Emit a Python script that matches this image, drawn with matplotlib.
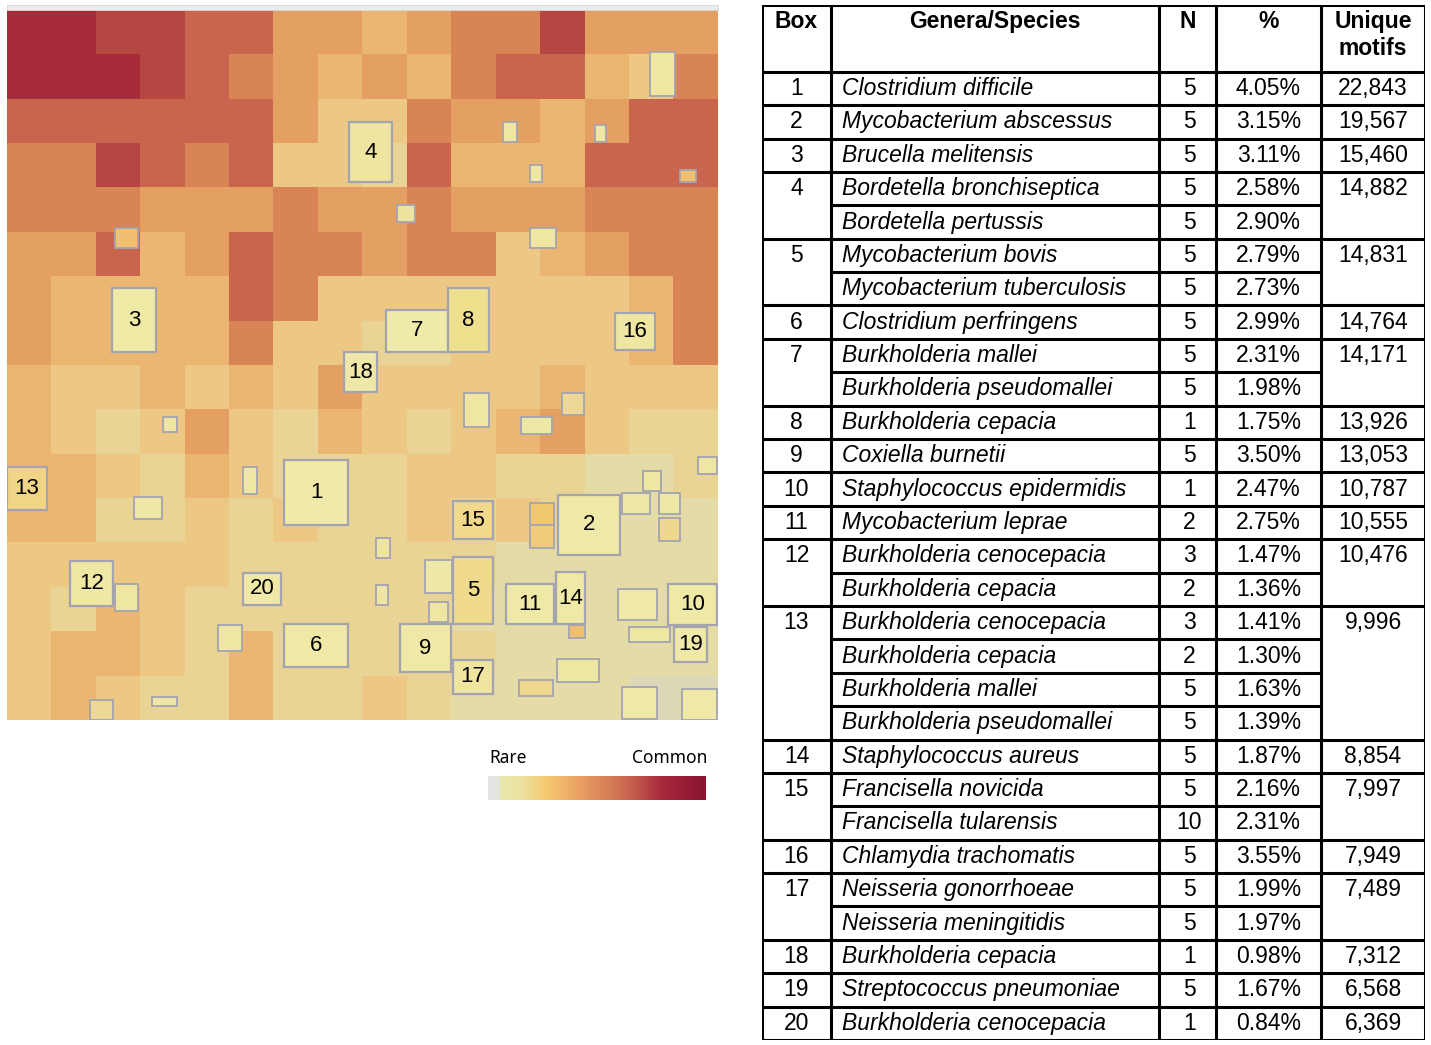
import matplotlib
matplotlib.use("Agg")
import numpy as np
import matplotlib.pyplot as plt
from matplotlib.colors import ListedColormap, LinearSegmentedColormap, Normalize
from matplotlib.patches import Rectangle
from matplotlib import font_manager
import matplotlib.cm as cm

# coarse motif-abundance levels of the map (0 rare .. 9 common), 16 x 16 blocks
level_rows = [
    "9988775545668555",
    "9998765454677436",
    "7777775336554577",
    "6687673327444777",
    "6665556556555666",
    "5574576656634566",
    "5444476333333346",
    "5444463322333346",
    "4334343533334333",
    "4323532432345322",
    "4432432223322112",
    "4422323223232111",
    "3333322222211111",
    "3243222222111111",
    "3443242222211111",
    "3432242232111100",
]
levels = np.array([[int(c) for c in r] for r in level_rows])
level_colors = ["#ddd9b8", "#e5dba6", "#e9d495", "#ecc884", "#ebb672",
                "#e49f62", "#d98455", "#c9654c", "#b64642", "#a52c38"]

# labelled boxes (image pixel coords of the map: x0, y0, x1, y1)
box_ids = list(range(1, 21))
box_x0 = [284, 558, 112, 349, 453, 284, 386, 448, 400, 668, 506, 70, 7, 556, 453, 615, 453, 344, 674, 243]
box_y0 = [460, 495, 288, 122, 557, 624, 310, 288, 624, 584, 584, 561, 467, 572, 501, 313, 660, 352, 627, 573]
box_x1 = [348, 620, 156, 392, 493, 348, 448, 489, 451, 717, 554, 113, 47, 585, 493, 655, 493, 377, 707, 281]
box_y1 = [525, 555, 352, 182, 624, 667, 352, 352, 672, 625, 624, 606, 510, 624, 539, 350, 694, 392, 662, 605]
box_fill = ["#efeaa8", "#efe9a8", "#efe9a6", "#efe4a0", "#f0da8e", "#efe8a6", "#eeeaaa", "#efe08e",
            "#efe8a6", "#efe9a8", "#efe9a8", "#efe7a4", "#f1d486", "#efe8a6", "#f1d88a", "#efe6a4",
            "#efe4a0", "#efe8a8", "#efe8a8", "#efe8a6"]

# some of the larger unlabelled boxes
ext_x0 = [650, 530, 530, 622, 659, 659, 618, 557, 622, 682, 425, 464, 562, 521, 134, 115, 218, 90, 115, 530,
          503, 595, 397, 530, 680, 243, 163, 376, 376, 698, 643, 629, 519, 429, 569, 152]
ext_y0 = [52, 503, 525, 493, 493, 518, 589, 659, 687, 689, 560, 393, 393, 417, 497, 584, 625, 700, 228, 228,
          122, 125, 205, 165, 170, 467, 417, 585, 538, 457, 471, 627, 680, 602, 625, 697]
ext_x1 = [675, 554, 554, 650, 680, 680, 657, 599, 657, 717, 452, 489, 584, 552, 162, 138, 242, 113, 138, 556,
          517, 606, 415, 542, 696, 257, 177, 388, 390, 717, 661, 670, 553, 448, 585, 177]
ext_y1 = [96, 525, 548, 514, 514, 541, 620, 682, 719, 720, 593, 427, 415, 434, 519, 611, 651, 720, 248, 248,
          142, 142, 222, 182, 182, 494, 432, 605, 558, 474, 491, 642, 696, 622, 638, 706]
ext_fill = ["#efe6a0", "#f0c870", "#f0cc78", "#eee8a6", "#eee8a6", "#eed890", "#efe9a8", "#eee6a2",
            "#efe8a6", "#efe8a6", "#eee8a6", "#eee6a2", "#eed898", "#eee8a6", "#eee8a6", "#eee6a2",
            "#eee6a2", "#eed898", "#f0c070", "#eee6a2", "#eee6a2", "#eee6a2", "#eee2a0", "#eee6a2",
            "#f0c070", "#eee6a2", "#eee6a2", "#eee6a2", "#eee6a2", "#eee6a2", "#eee6a2", "#eee6a2",
            "#eed890", "#eee6a2", "#f0c070", "#eee6a2"]

# table
row_box = [1, 2, 3, 4, 4, 5, 5, 6, 7, 7, 8, 9, 10, 11, 12, 12, 13, 13, 13, 13, 14, 15, 15, 16, 17, 17, 18, 19, 20]
row_species = ["Clostridium difficile", "Mycobacterium abscessus", "Brucella melitensis",
               "Bordetella bronchiseptica", "Bordetella pertussis", "Mycobacterium bovis",
               "Mycobacterium tuberculosis", "Clostridium perfringens", "Burkholderia mallei",
               "Burkholderia pseudomallei", "Burkholderia cepacia", "Coxiella burnetii",
               "Staphylococcus epidermidis", "Mycobacterium leprae", "Burkholderia cenocepacia",
               "Burkholderia cepacia", "Burkholderia cenocepacia", "Burkholderia cepacia",
               "Burkholderia mallei", "Burkholderia pseudomallei", "Staphylococcus aureus",
               "Francisella novicida", "Francisella tularensis", "Chlamydia trachomatis",
               "Neisseria gonorrhoeae", "Neisseria meningitidis", "Burkholderia cepacia",
               "Streptococcus pneumoniae", "Burkholderia cenocepacia"]
row_n = [5, 5, 5, 5, 5, 5, 5, 5, 5, 5, 1, 5, 1, 2, 3, 2, 3, 2, 5, 5, 5, 5, 10, 5, 5, 5, 1, 5, 1]
row_pct = [4.05, 3.15, 3.11, 2.58, 2.90, 2.79, 2.73, 2.99, 2.31, 1.98, 1.75, 3.50, 2.47, 2.75, 1.47,
           1.36, 1.41, 1.30, 1.63, 1.39, 1.87, 2.16, 2.31, 3.55, 1.99, 1.97, 0.98, 1.67, 0.84]
box_motifs = [22843, 19567, 15460, 14882, 14831, 14764, 14171, 13926, 13053, 10787,
              10555, 10476, 9996, 8854, 7997, 7949, 7489, 7312, 6568, 6369]
headers = ["Box", "Genera/Species", "N", "%", "Unique\nmotifs"]

W, H = 1431, 1045
fig = plt.figure(figsize=(W / 100, H / 100), dpi=100)

# ---- map ----
ax = fig.add_axes([7 / W, 1 - 720 / H, 711 / W, 710 / H])
ax.imshow(levels, cmap=ListedColormap(level_colors), vmin=-0.5, vmax=9.5,
          extent=(7, 718, 720, 10), interpolation="nearest", aspect="auto")
for i in range(len(ext_x0)):
    ax.add_patch(Rectangle((ext_x0[i], ext_y0[i]), ext_x1[i] - ext_x0[i], ext_y1[i] - ext_y0[i],
                           facecolor=ext_fill[i], edgecolor="#a4a4b0", lw=1.3))
for i, b in enumerate(box_ids):
    ax.add_patch(Rectangle((box_x0[i], box_y0[i]), box_x1[i] - box_x0[i], box_y1[i] - box_y0[i],
                           facecolor=box_fill[i], edgecolor="#a4a4b0", lw=1.6))
    ax.text((box_x0[i] + box_x1[i]) / 2, (box_y0[i] + box_y1[i]) / 2, str(b), ha="center",
            va="center", fontsize=16, family="Liberation Sans", color="black")
ax.set_xlim(7, 718)
ax.set_ylim(720, 10)
ax.axis("off")
fig.patches.append(Rectangle((7 / W, 1 - 10 / H), 711 / W, 5 / H, transform=fig.transFigure,
                             facecolor="#ececec", edgecolor="#d8d8d8", lw=0.6))

# ---- colour key ----
key_cmap = LinearSegmentedColormap.from_list("key", [
    (0.0, "#e3e3e3"), (0.05, "#e3e3e3"), (0.055, "#e6e6ae"), (0.15, "#ece2a0"),
    (0.27, "#f6c870"), (0.42, "#eaa062"), (0.57, "#d47a55"), (0.68, "#c0584a"),
    (0.8, "#a8283c"), (1.0, "#881430")])
cax = fig.add_axes([488 / W, 1 - 800 / H, 218 / W, 24 / H])
cb = fig.colorbar(cm.ScalarMappable(norm=Normalize(0, 1), cmap=key_cmap), cax=cax,
                  orientation="horizontal")
cb.set_ticks([])
cb.outline.set_visible(False)
fig.text(489 / W, 1 - 767 / H, "Rare", fontsize=12.5, family="Noto Sans", ha="left", va="bottom")
fig.text(707 / W, 1 - 767 / H, "Common", fontsize=12.5, family="Noto Sans", ha="right", va="bottom")

# ---- table ----
names = {f.name for f in font_manager.fontManager.ttflist}
if "Liberation Sans Narrow" in names:
    tfam, tsize = "Liberation Sans Narrow", 17
else:
    tfam, tsize = "Liberation Sans", 16.5

col_w = [69, 328, 57, 105, 104]
col_edges = np.concatenate([[0], np.cumsum(col_w)])
n_rows = len(row_species)
head = 2
tab = fig.add_axes([762 / W, 1 - 1040 / H, col_edges[-1] / W, 1035 / H])
tab.set_xlim(0, col_edges[-1])
tab.set_ylim(head + n_rows, 0)
tab.axis("off")

lw = 2.2
for e in col_edges:
    tab.plot([e, e], [0, head + n_rows], color="black", lw=lw, solid_capstyle="projecting")
tab.plot([0, col_edges[-1]], [0, 0], color="black", lw=lw, solid_capstyle="projecting")
tab.plot([0, col_edges[-1]], [head, head], color="black", lw=lw)

for j, h in enumerate(headers):
    xc = (col_edges[j] + col_edges[j + 1]) / 2
    tab.text(xc, 0.15, h, ha="center", va="top", fontsize=tsize, fontweight="bold",
             family=tfam, linespacing=1.2)

for r in range(n_rows):
    y = head + r
    yc = y + 0.5
    first = r == 0 or row_box[r] != row_box[r - 1]
    last = r == n_rows - 1 or row_box[r] != row_box[r + 1]
    if last:
        tab.plot([0, col_edges[-1]], [y + 1, y + 1], color="black", lw=lw)
    else:
        tab.plot([col_edges[1], col_edges[4]], [y + 1, y + 1], color="black", lw=lw)
    if first:
        tab.text((col_edges[0] + col_edges[1]) / 2, yc, str(row_box[r]), ha="center",
                 va="center", fontsize=tsize, family=tfam)
        tab.text((col_edges[4] + col_edges[5]) / 2, yc, f"{box_motifs[row_box[r] - 1]:,}",
                 ha="center", va="center", fontsize=tsize, family=tfam)
    tab.text(col_edges[1] + 11, yc, row_species[r], ha="left", va="center", fontsize=tsize,
             family=tfam, style="italic")
    tab.text((col_edges[2] + col_edges[3]) / 2 + 2, yc, str(row_n[r]), ha="center",
             va="center", fontsize=tsize, family=tfam)
    tab.text((col_edges[3] + col_edges[4]) / 2, yc, f"{row_pct[r]:.2f}%", ha="center",
             va="center", fontsize=tsize, family=tfam)

fig.savefig("out.png", dpi=100, facecolor="white")
